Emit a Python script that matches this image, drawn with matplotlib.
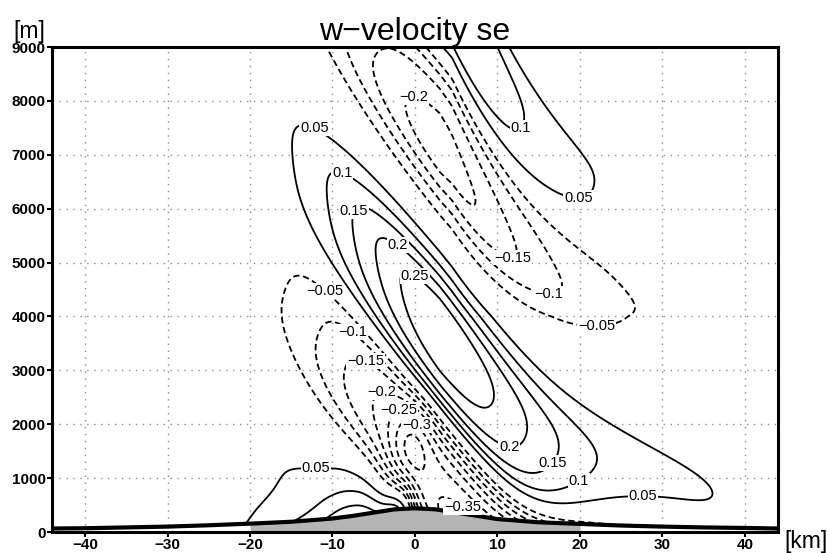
import numpy as np
import matplotlib.pyplot as plt

plt.rcParams['font.family'] = ['Liberation Sans', 'DejaVu Sans']

# terrain profile (x in km, height in km)
terrain_x = [-44, -40, -35, -30, -25, -20, -15, -10, -7.5, -5, -2.5, 0, 2.5, 5, 7.5, 10, 15, 20, 25, 30, 35, 40, 44]
terrain_h = [0.065, 0.07, 0.085, 0.10, 0.125, 0.155, 0.19, 0.25, 0.30, 0.36, 0.42, 0.44, 0.42, 0.36, 0.30, 0.24, 0.18, 0.15, 0.12, 0.10, 0.085, 0.075, 0.065]

# tilted wave pattern, parameters
wave_amp = 0.40            # m/s
wave_l = 0.94              # vertical wavenumber, 1/km
wave_steep = 0.45          # sharper rise from down- to up-draught
tilt_c, tilt_s, tilt_sl, tilt_s2 = 4.17, 0.185, 0.18, 0.025
tilt_xk, tilt_w, tilt_x0, tilt_k = 16.0, 4.0, 4.5, 0.15
decay_h, decay_x = 13.0, 15.0
env_xc, env_gl, env_br = 3.0, 14.5, 15.0
# windward side: damping of the wave, broad up-slope region, crest bump
damp_xc, damp_wx, damp_wz = -12.0, 10.0, 1.8
wind_amp, wind_xc, wind_wl, wind_wr, wind_hz = 0.18, -7.0, 8.0, 5.0, 0.75
crest_amp, crest_xc, crest_zc, crest_wl, crest_wr, crest_wz = 0.15, -1.5, 0.45, 2.0, 1.5, 0.5
# lee side: near-ground down-slope part and core of the down-draught
lee_amp, lee_xc, lee_wx, lee_hz = -0.20, 20.0, 11.0, 0.6
core_amp, core_xc, core_zc, core_wx, core_wz = -0.10, -0.5, 1.6, 2.5, 0.7

levels = [-0.35, -0.3, -0.25, -0.2, -0.15, -0.1, -0.05, 0.05, 0.1, 0.15, 0.2, 0.25]
xticks = [-40, -30, -20, -10, 0, 10, 20, 30, 40]
yticks = [0, 1000, 2000, 3000, 4000, 5000, 6000, 7000, 8000, 9000]

# contour labels: level and spot (x km, z m)
label_lev = [0.05, 0.1, 0.15, 0.2, 0.25, -0.2, 0.1, 0.05, -0.15, -0.1, -0.05, 0.2,
             0.15, 0.1, 0.05, -0.35, -0.05, -0.1, -0.15, -0.2, -0.25, -0.3, 0.05]
label_pos = [(-11.7, 7680), (-8.5, 6830), (-7.3, 5950), (-2.2, 5300), (-0.3, 4680),
             (-0.2, 8200), (13.7, 7310), (19.8, 6310), (11.9, 4660), (16.0, 4000),
             (22.0, 3250), (11.7, 1820), (15.8, 1390), (19.6, 1020), (27.6, 630),
             (5.8, 460), (-12.1, 4270), (-8.1, 3620), (-6.1, 3140), (-4.0, 2730),
             (-2.1, 2360), (0.0, 1950), (-12.1, 1240)]

x = np.linspace(-44, 44, 441)
z = np.linspace(0, 9, 451)
X, Z = np.meshgrid(x, z)
hg = np.interp(x, terrain_x, terrain_h)[None, :]

slope = np.where(X > tilt_x0, tilt_s * (1 + tilt_k * np.clip(Z - 4, 0, None)), tilt_sl)
G = (tilt_c - tilt_s * tilt_x0 - slope * (X - tilt_x0)
     + (tilt_s - tilt_s2) * tilt_w * np.log1p(np.exp((X - tilt_xk) / tilt_w)))
dx = X - env_xc
env = np.where(dx < 0, np.exp(-(dx / env_gl) ** 2), 1 / (1 + (dx / env_br) ** 2))
hd = decay_h / (1 + np.clip(dx, 0, None) / decay_x)
theta = wave_l * Z - G
psi = theta + wave_steep * np.cos(theta) * np.sin(theta) ** 2
W = wave_amp * env * np.exp(-Z / hd) * np.cos(psi)
W *= 1 - np.exp(-((X - damp_xc) / damp_wx) ** 2 - (Z / damp_wz) ** 2)

wx = np.where(X < wind_xc, 1 / (1 + ((X - wind_xc) / wind_wl) ** 2),
              np.exp(-((X - wind_xc) / wind_wr) ** 2))
W += wind_amp * wx * np.exp(-np.clip(Z - hg, 0, None) / wind_hz)
cw = np.where(X < crest_xc, crest_wl, crest_wr)
W += crest_amp * np.exp(-((X - crest_xc) / cw) ** 2 - ((Z - crest_zc) / crest_wz) ** 2)
W += lee_amp * np.exp(-((X - lee_xc) / lee_wx) ** 2 - Z / lee_hz)
W += core_amp * np.exp(-((X - core_xc) / core_wx) ** 2 - ((Z - core_zc) / core_wz) ** 2)

W = np.where(Z < hg, np.nan, W)

fig = plt.figure(figsize=(8.28, 5.53), dpi=100)
ax = fig.add_axes([52 / 828, 21 / 553, 726 / 828, 485 / 553])

cs = ax.contour(X, Z * 1000, W, levels=levels, colors='k', linewidths=1.3,
                linestyles=[(0, (3.5, 2)) if v < 0 else 'solid' for v in levels])

# put each label on the nearest point of its own contour, upright, on a white patch
paths = cs.get_paths()
for lev, (lx, lz) in zip(label_lev, label_pos):
    pts = paths[levels.index(lev)].vertices
    if len(pts) == 0:
        continue
    d = ((pts[:, 0] - lx) * 8.25) ** 2 + ((pts[:, 1] - lz) * 0.0539) ** 2
    px, pz = pts[np.argmin(d)]
    ax.text(px, pz, f"{lev:g}".replace('-', '\u2212'), fontsize=10.5, ha='center',
            va='center', zorder=5,
            bbox=dict(facecolor='white', edgecolor='none', pad=0.6))

th = np.array(terrain_h) * 1000
ax.fill_between(terrain_x, 0, th, where=np.array(terrain_h) >= 0.13,
                color='#b4b4b4', lw=0, zorder=3)
ax.plot(terrain_x, th, color='k', lw=3, zorder=4)

ax.set_xlim(-44, 44)
ax.set_ylim(0, 9000)
ax.set_xticks(xticks)
ax.set_yticks(yticks)
ax.set_xticklabels([str(t).replace('-', '\u2212') for t in xticks], fontweight='bold')
ax.set_yticklabels([str(t) for t in yticks], fontweight='bold')
ax.grid(True, color='0.55', linestyle=(0, (1, 4)), linewidth=1)
ax.tick_params(direction='out', length=3.5, width=1.5, labelsize=11, pad=1)
for s in ax.spines.values():
    s.set_linewidth(2.2)
    s.set_zorder(6)

ax.set_title('w\u2212velocity se', fontsize=23, pad=5)
fig.text(13 / 828, 1 - 38 / 553, '[m]', fontsize=16.5)
fig.text(784 / 828, 1 - 548 / 553, '[km]', fontsize=16.5)

plt.savefig('out.png', dpi=100)
